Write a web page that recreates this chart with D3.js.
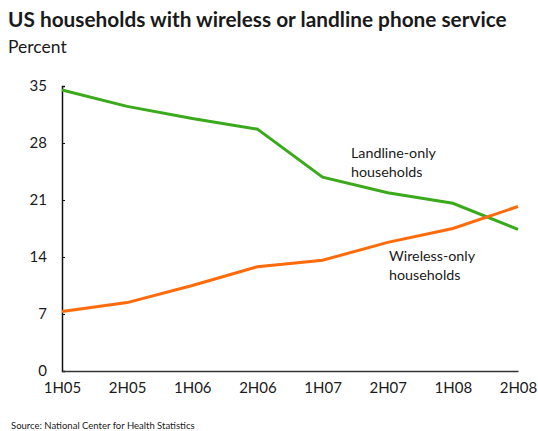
<!DOCTYPE html>
<html>
<head>
<meta charset="utf-8">
<script src="https://d3js.org/d3.v7.min.js"></script>
<style>
  body { margin: 0; background: #fff; }
  svg text { font-family: Lato, "Open Sans", sans-serif; fill: #1a1a1a; }
</style>
</head>
<body>
<div id="chart"></div>
<script>
const PERIODS = ["1H05", "2H05", "1H06", "2H06", "1H07", "2H07", "1H08", "2H08"];
const LANDLINE_ONLY = [34.5, 32.5, 31.0, 29.7, 23.8, 21.9, 20.6, 17.4];
const WIRELESS_ONLY = [7.3, 8.4, 10.5, 12.8, 13.6, 15.8, 17.5, 20.2];
const Y_TICKS = [0, 7, 14, 21, 28, 35];

const width = 538;
const height = 431;
const margin = { top: 86, right: 20, bottom: 60, left: 62 };

const svg = d3
  .select("#chart")
  .append("svg")
  .attr("width", width)
  .attr("height", height);

svg
  .append("text")
  .attr("x", 8)
  .attr("y", 27)
  .attr("font-size", 20.8)
  .attr("font-weight", 700)
  .text("US households with wireless or landline phone service");

svg
  .append("text")
  .attr("x", 8)
  .attr("y", 53)
  .attr("font-size", 17.5)
  .text("Percent");

const x = d3
  .scalePoint()
  .domain(PERIODS)
  .range([margin.left, 518]);

const y = d3
  .scaleLinear()
  .domain([0, 35])
  .range([371, margin.top]);

// y axis
const yAxis = svg
  .append("g")
  .attr("transform", `translate(${margin.left},0)`)
  .call(d3.axisRight(y).tickValues(Y_TICKS).tickSize(3).tickFormat(d3.format("d")));
yAxis.select(".domain").attr("stroke", "#111").attr("stroke-width", 1.5);
yAxis.selectAll(".tick line").attr("stroke", "#111");
yAxis
  .selectAll(".tick text")
  .attr("x", -15)
  .attr("text-anchor", "end")
  .attr("font-size", 15);

// x axis
const xAxis = svg
  .append("g")
  .attr("transform", `translate(0,${y(0)})`)
  .call(d3.axisBottom(x).tickSize(0).tickPadding(11));
xAxis.select(".domain").attr("stroke", "#333").attr("stroke-width", 1.5);
xAxis.selectAll(".tick text").attr("font-size", 15);

const line = d3
  .line()
  .x((d, i) => x(PERIODS[i]))
  .y((d) => y(d));

svg
  .append("path")
  .datum(LANDLINE_ONLY)
  .attr("fill", "none")
  .attr("stroke", "#3aaa1c")
  .attr("stroke-width", 3)
  .attr("d", line);

svg
  .append("path")
  .datum(WIRELESS_ONLY)
  .attr("fill", "none")
  .attr("stroke", "#ff6a0a")
  .attr("stroke-width", 3)
  .attr("d", line);

const labels = [
  { lines: ["Landline-only", "households"], x: 351, y: 158 },
  { lines: ["Wireless-only", "households"], x: 389, y: 261 },
];
labels.forEach((lab) => {
  const t = svg
    .append("text")
    .attr("x", lab.x)
    .attr("y", lab.y)
    .attr("font-size", 14.3);
  lab.lines.forEach((s, i) => {
    t.append("tspan")
      .attr("x", lab.x)
      .attr("dy", i === 0 ? 0 : 18.5)
      .text(s);
  });
});

svg
  .append("text")
  .attr("x", 11)
  .attr("y", 429)
  .attr("font-size", 9.5)
  .text("Source: National Center for Health Statistics");
</script>
</body>
</html>
